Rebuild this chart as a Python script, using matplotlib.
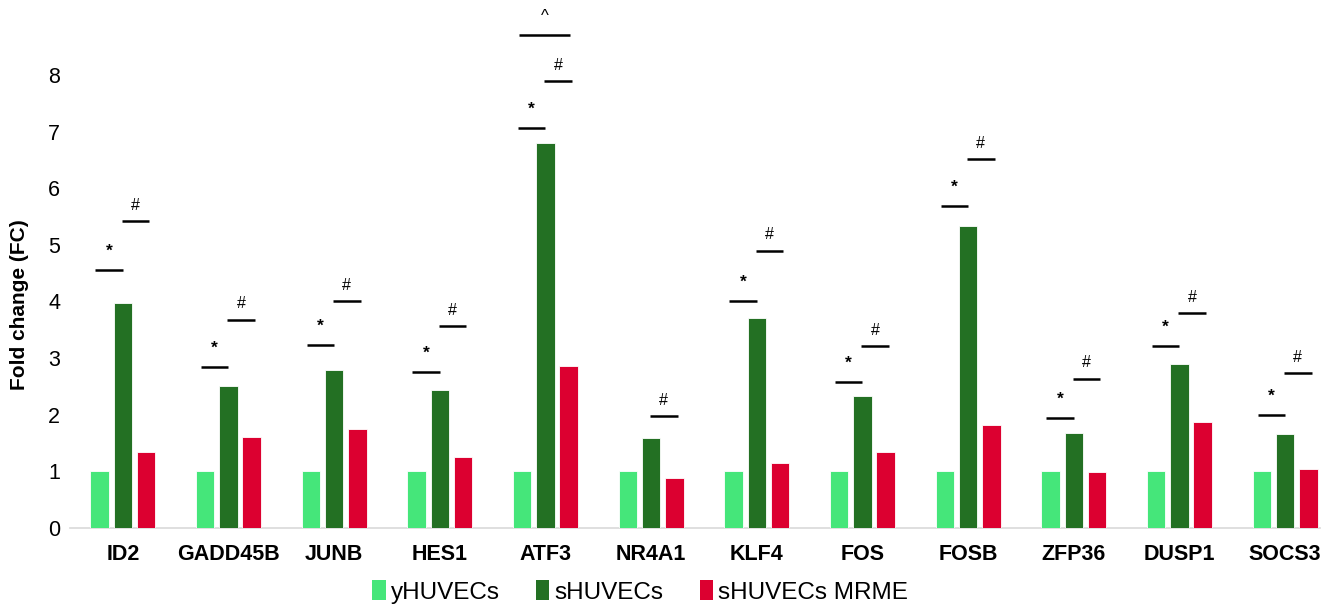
import matplotlib
matplotlib.use("Agg")
import matplotlib.pyplot as plt
from matplotlib.patches import Patch
import numpy as np

plt.rcParams['font.family'] = ['Liberation Sans', 'DejaVu Sans']

genes = ["ID2", "GADD45B", "JUNB", "HES1", "ATF3", "NR4A1", "KLF4", "FOS", "FOSB", "ZFP36", "DUSP1", "SOCS3"]
yhuvecs = [1, 1, 1, 1, 1, 1, 1, 1, 1, 1, 1, 1]
shuvecs = [3.97, 2.50, 2.78, 2.43, 6.80, 1.59, 3.70, 2.33, 5.33, 1.67, 2.89, 1.66]
shuvecs_mrme = [1.33, 1.61, 1.75, 1.25, 2.86, 0.88, 1.14, 1.34, 1.82, 0.99, 1.87, 1.04]
series_names = ["yHUVECs", "sHUVECs", "sHUVECs MRME"]

# significance bars (None = absent)
star_y = [4.55, 2.84, 3.23, 2.75, 7.06, None, 4.00, 2.57, 5.68, 1.94, 3.21, 1.99]
hash_y = [5.41, 3.67, 4.00, 3.56, 7.89, 1.97, 4.89, 3.21, 6.51, 2.63, 3.79, 2.73]
caret_y = [None, None, None, None, 8.70, None, None, None, None, None, None, None]

colors = ["#45E67A", "#237023", "#DC0030"]

W, H = 1332, 606
fig = plt.figure(figsize=(W / 100, H / 100), dpi=100)
left_px, right_px = 70, 1320
bottom_px = 606 - 527.7
ppu = 56.6
ymax = 9.0
ax = fig.add_axes([left_px / W, bottom_px / H, (right_px - left_px) / W, ymax * ppu / H])

x = np.arange(len(genes))
bw = 0.175
off = 0.22
for i, (vals, c, name) in enumerate(zip([yhuvecs, shuvecs, shuvecs_mrme], colors, series_names)):
    ax.bar(x + (i - 1) * off, vals, width=bw, color=c, edgecolor="white", linewidth=0.6, label=name, zorder=3)

ax.set_xlim(-0.5, 11.33)
ax.set_ylim(0, ymax)
ax.set_yticks(range(0, 9))
ax.tick_params(axis='y', length=0, labelsize=15.5, pad=7)
ax.tick_params(axis='x', length=0, pad=12)
ax.set_xticks(x)
ax.set_xticklabels(genes, fontsize=15.5, fontweight='bold')
for s in ["top", "right", "left"]:
    ax.spines[s].set_visible(False)
ax.spines["bottom"].set_color("#D9D9D9")
ax.spines["bottom"].set_linewidth(1.2)
ax.set_ylabel("Fold change (FC)", fontsize=15, fontweight='bold', va='center')
ax.yaxis.set_label_coords((20 - left_px) / (right_px - left_px), (527.7 - 305) / (ymax * ppu))

lw = 1.8
for i in range(len(genes)):
    if star_y[i] is not None:
        ax.plot([i - 0.26, i], [star_y[i], star_y[i]], color="black", lw=lw, clip_on=False, solid_capstyle='butt')
        ax.text(i - 0.13, star_y[i] + 0.2, "*", ha='center', va='bottom', fontsize=12.5, fontweight='bold')
    if hash_y[i] is not None:
        ax.plot([i - 0.01, i + 0.25], [hash_y[i], hash_y[i]], color="black", lw=lw, clip_on=False, solid_capstyle='butt')
        ax.text(i + 0.12, hash_y[i] + 0.15, "#", ha='center', va='bottom', fontsize=11.5)
    if caret_y[i] is not None:
        ax.plot([i - 0.25, i + 0.23], [caret_y[i], caret_y[i]], color="black", lw=lw, clip_on=False, solid_capstyle='butt')
        ax.text(i - 0.01, caret_y[i] + 0.2, "^", ha='center', va='bottom', fontsize=12, clip_on=False)

handles = [Patch(facecolor=c, edgecolor='none') for c in colors]
fig.legend(handles, series_names, loc='center', bbox_to_anchor=(640 / W, 1 - 592 / H), ncol=3, frameon=False,
           fontsize=17.5, handlelength=0.55, handleheight=0.9, handletextpad=0.2, columnspacing=1.5,
           borderpad=0)

fig.savefig("out.png", dpi=100)
